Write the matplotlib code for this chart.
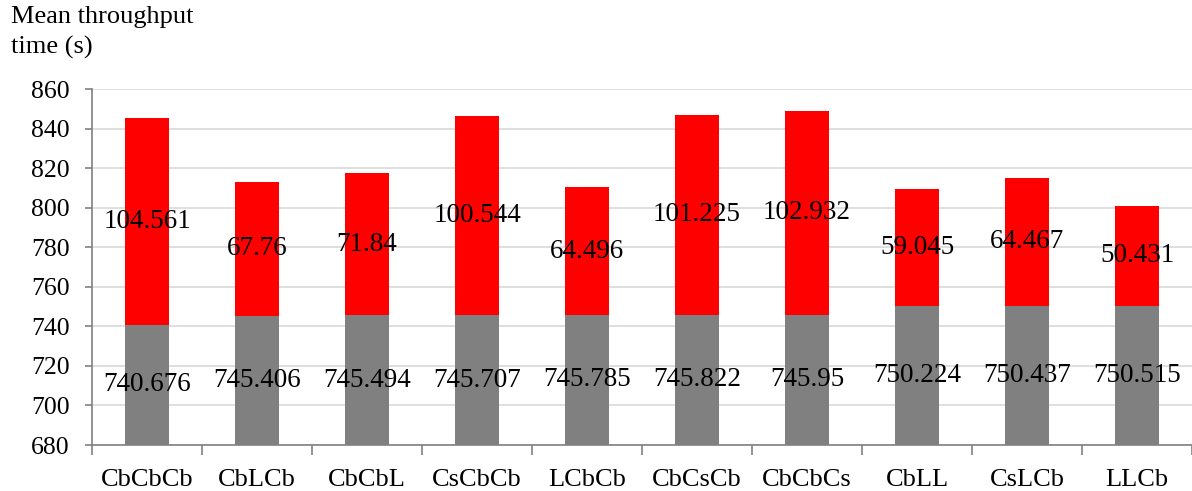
import matplotlib.pyplot as plt
import numpy as np

plt.rcParams['font.family'] = ['Liberation Serif', 'DejaVu Serif']

# configurations and the two stacked components (s)
configs = ['CbCbCb', 'CbLCb', 'CbCbL', 'CsCbCb', 'LCbCb',
           'CbCsCb', 'CbCbCs', 'CbLL', 'CsLCb', 'LLCb']
base_time = [740.676, 745.406, 745.494, 745.707, 745.785,
             745.822, 745.95, 750.224, 750.437, 750.515]
extra_time = [104.561, 67.76, 71.84, 100.544, 64.496,
              101.225, 102.932, 59.045, 64.467, 50.431]

y_min, y_max = 680, 860

fig = plt.figure(figsize=(11.92, 4.91), dpi=100)
ax = fig.add_axes([92/1192, 46/491, 1100/1192, 356/491])

x = np.arange(len(configs))
w = 0.4
base = np.array(base_time)
extra = np.array(extra_time)

ax.bar(x, base - y_min, bottom=y_min, width=w, color='#808080', zorder=2)
ax.bar(x, extra, bottom=base, width=w, color='#ff0000', zorder=2)

# segment values, centred in each visible piece
for i in range(len(configs)):
    ax.text(x[i], (y_min + base[i]) / 2, f'{base_time[i]:g}',
            ha='center', va='center', fontsize=19.5, zorder=3)
    ax.text(x[i], base[i] + extra[i] / 2, f'{extra_time[i]:g}',
            ha='center', va='center', fontsize=19.5, zorder=3)

ax.set_xlim(-0.5, len(configs) - 0.5)
ax.set_ylim(y_min, y_max)
ax.set_yticks(np.arange(y_min, y_max + 1, 20))
ax.yaxis.grid(True, color='#d9d9d9', linewidth=1.2, zorder=0)
ax.set_axisbelow(True)

# category labels between boundary ticks
ax.set_xticks(x)
ax.set_xticklabels(configs)
ax.set_xticks(np.arange(-0.5, len(configs), 1), minor=True)
ax.tick_params(axis='x', which='major', length=0, pad=17, labelsize=19)
ax.tick_params(axis='x', which='minor', length=7, width=1.2, color='#808080')
ax.tick_params(axis='y', length=5, width=1.2, color='#808080', pad=11, labelsize=18.5)

for s in ['top', 'right']:
    ax.spines[s].set_visible(False)
for s in ['left', 'bottom']:
    ax.spines[s].set_color('#808080')
    ax.spines[s].set_linewidth(1.2)

fig.text(11/1192, 1 - 6/491, 'Mean throughput\ntime (s)', ha='left', va='top',
         fontsize=19, linespacing=1.42)

fig.savefig('out.png', dpi=100)
